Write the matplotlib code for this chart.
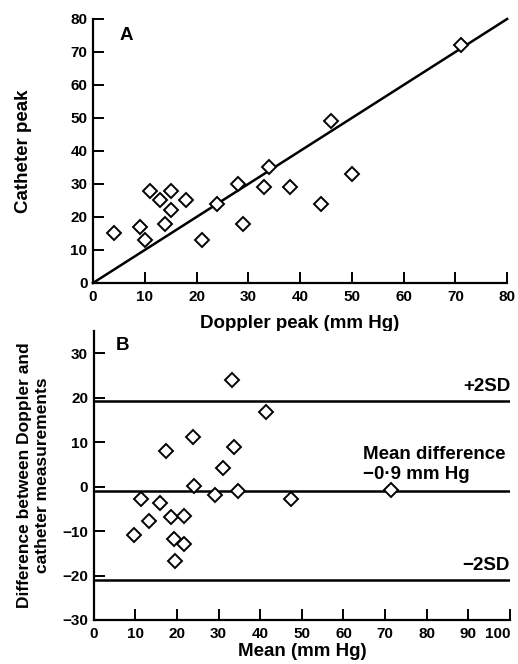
import matplotlib
matplotlib.use("Agg")
import matplotlib.pyplot as plt

plt.rcParams["font.family"] = ["Liberation Sans", "DejaVu Sans"]

# Panel A: Doppler peak vs catheter peak (mm Hg)
doppler_peak = [4, 9, 10, 11, 13, 15, 15, 14, 18, 21, 24, 28, 29, 33, 34, 38, 44, 46, 50, 71]
catheter_peak = [15, 17, 13, 28, 25, 28, 22, 18, 25, 13, 24, 30, 18, 29, 35, 29, 24, 49, 33, 72]
identity = [0, 80]

# Panel B: mean vs difference (Bland-Altman)
mean_vals = [9.7, 11.5, 13.3, 16.0, 17.4, 18.6, 19.4, 19.6, 21.8, 21.8,
             23.8, 24.2, 29.1, 31.0, 33.2, 33.6, 34.7, 41.5, 47.5, 71.4]
diff_vals = [-10.9, -2.7, -7.7, -3.8, 7.9, -6.8, -11.7, -16.8, -6.7, -12.9,
             11.1, 0.2, -1.9, 4.1, 23.9, 9.0, -0.9, 16.8, -2.8, -0.7]
mean_diff = -0.9
upper_sd = 19.2
lower_sd = -21.0

fig = plt.figure(figsize=(5.18, 6.64), dpi=100)


def style_axes(ax):
    ax.spines["top"].set_visible(False)
    ax.spines["right"].set_visible(False)
    for s in ("left", "bottom"):
        ax.spines[s].set_linewidth(1.6)
    ax.tick_params(direction="in", length=8, width=1.4, labelsize=11)
    ax.tick_params(axis="x", pad=5)
    ax.tick_params(axis="y", pad=4)
    for lab in ax.get_xticklabels() + ax.get_yticklabels():
        lab.set_fontweight("bold")


# --- Panel A ---
ax1 = fig.add_axes([0.1795, 0.5738, 0.7995, 0.3976])
ax1.plot(identity, identity, color="black", lw=1.8, clip_on=False)
ax1.plot(doppler_peak, catheter_peak, "D", mfc="white", mec="black",
         ms=7, mew=1.4, linestyle="none", zorder=3)
ax1.set_xlim(0, 80)
ax1.set_ylim(0, 80)
ax1.set_xticks(range(0, 81, 10))
ax1.set_yticks(range(0, 81, 10))
style_axes(ax1)
ax1.set_xlabel("Doppler peak (mm Hg)", fontsize=13.5, fontweight="bold", labelpad=8)
ax1.set_ylabel("Catheter peak", fontsize=13.5, fontweight="bold")
ax1.yaxis.set_label_coords(-0.147, 0.5)
ax1.text(6.5, 75, "A", fontsize=13.5, fontweight="bold", ha="center", va="center")

# --- Panel B ---
ax2 = fig.add_axes([0.1807, 0.0663, 0.8039, 0.4352])
for yv in (upper_sd, mean_diff, lower_sd):
    ax2.axhline(yv, color="black", lw=1.8)
ax2.plot(mean_vals, diff_vals, "D", mfc="white", mec="black",
         ms=7, mew=1.4, linestyle="none", zorder=3)
ax2.set_xlim(0, 100)
ax2.set_ylim(-30, 35)
ax2.set_xticks(range(0, 101, 10))
ax2.set_yticks(range(-30, 31, 10))
ax2.set_yticklabels(["\u221230", "\u221220", "\u221210", "0", "10", "20", "30"])
style_axes(ax2)
# last label sits at the figure edge, keep it inside
ax2.get_xticklabels()[-1].set_horizontalalignment("right")
ax2.set_xlabel("Mean (mm Hg)", fontsize=13.5, fontweight="bold", labelpad=1.5)
ax2.set_ylabel("Difference between Doppler and\ncatheter measurements",
               fontsize=12.5, fontweight="bold")
ax2.yaxis.set_label_coords(-0.105, 0.5)
ax2.text(7, 31.8, "B", fontsize=13.5, fontweight="bold", ha="center", va="center")
ax2.text(100, 22.5, "+2SD", fontsize=13.5, fontweight="bold", ha="right", va="center")
ax2.text(64.6, 7.2, "Mean difference", fontsize=13.5, fontweight="bold", ha="left", va="center")
ax2.text(64.8, 2.7, "\u22120\u00b79 mm Hg", fontsize=13.5, fontweight="bold", ha="left", va="center")
ax2.text(100, -17.8, "\u22122SD", fontsize=13.5, fontweight="bold", ha="right", va="center")

fig.savefig("out.png", dpi=100)
